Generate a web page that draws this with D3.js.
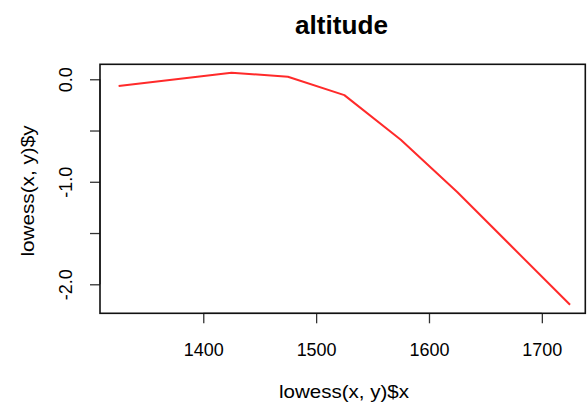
<!DOCTYPE html>
<html>
<head>
<meta charset="utf-8">
<script src="https://cdn.jsdelivr.net/npm/d3@7"></script>
<style>
  html, body { margin: 0; padding: 0; background: #fff; }
  svg { display: block; }
  text { font-family: "Liberation Sans", Arial, Helvetica, sans-serif; fill: #000; }
</style>
</head>
<body>
<svg id="chart" width="587" height="409"></svg>
<script>
const title = "altitude";
const xLabel = "lowess(x, y)$x";
const yLabel = "lowess(x, y)$y";
const xValues = [1325, 1425, 1475, 1525, 1575, 1625, 1725];
const yValues = [-0.065, 0.064, 0.025, -0.155, -0.59, -1.10, -2.20];
const xTicks = [1400, 1500, 1600, 1700];
const yTicks = [0, -0.5, -1, -1.5, -2];
const yTickLabels = ["0.0", "", "-1.0", "", "-2.0"];

const svg = d3.select("#chart");
const mLeft = 100, mRight = 585.3, mTop = 64.3, mBottom = 313.3;

const x = d3.scaleLinear().domain([1308.5, 1738.5]).range([mLeft, mRight]);
const y = d3.scaleLinear().domain([0.146, -2.283]).range([mTop, mBottom]);

// x axis
const gx = svg.append("g")
  .attr("transform", `translate(0,${mBottom})`)
  .call(d3.axisBottom(x).tickValues(xTicks).tickSize(10).tickPadding(17).tickFormat(d3.format("d")));
gx.select(".domain").remove();
gx.append("line").attr("x1", x(xTicks[0])).attr("x2", x(xTicks[xTicks.length-1]))
  .attr("stroke", "#000").attr("stroke-width", 1);
gx.selectAll(".tick line").attr("stroke", "#333").attr("stroke-width", 1.3);
gx.selectAll(".tick text")
  .style("font-size", "19px")
  .style("font-family", "Liberation Sans, Arial, sans-serif")
  .attr("y", 43).attr("dy", 0)
  .attr("textLength", 40).attr("lengthAdjust", "spacingAndGlyphs");

// y axis
const gy = svg.append("g")
  .attr("transform", `translate(${mLeft},0)`)
  .call(d3.axisLeft(y).tickValues(yTicks).tickSize(10).tickFormat((d, i) => yTickLabels[i]));
gy.select(".domain").remove();
gy.append("line").attr("y1", y(yTicks[0])).attr("y2", y(yTicks[yTicks.length-1]))
  .attr("stroke", "#000").attr("stroke-width", 1);
gy.selectAll(".tick line").attr("stroke", "#333").attr("stroke-width", 1.3);
gy.selectAll(".tick text")
  .style("font-size", "18px")
  .style("font-family", "Liberation Sans, Arial, sans-serif")
  .attr("text-anchor", "middle")
  .attr("x", 0).attr("dy", 0)
  .attr("transform", "translate(-28,0) rotate(-90)")
  .attr("y", 0);

// box
svg.append("rect")
  .attr("x", mLeft).attr("y", mTop)
  .attr("width", mRight - mLeft).attr("height", mBottom - mTop)
  .attr("fill", "none").attr("stroke", "#111").attr("stroke-width", 1.6);

// line
const line = d3.line().x((d, i) => x(xValues[i])).y(d => y(d));
svg.append("path")
  .datum(yValues)
  .attr("d", line)
  .attr("fill", "none")
  .attr("stroke", "#ff2a2a")
  .attr("stroke-width", 2)
  .attr("stroke-linejoin", "round");

// title
svg.append("text")
  .attr("x", 341.5).attr("y", 33.5)
  .attr("text-anchor", "middle")
  .style("font-size", "25px").style("font-weight", "bold")
  .attr("textLength", 93).attr("lengthAdjust", "spacingAndGlyphs")
  .text(title);

// x label
svg.append("text")
  .attr("x", 344).attr("y", 398)
  .attr("text-anchor", "middle")
  .style("font-size", "19px")
  .attr("textLength", 130).attr("lengthAdjust", "spacingAndGlyphs")
  .text(xLabel);

// y label
svg.append("text")
  .attr("transform", `translate(34,191) rotate(-90)`)
  .attr("text-anchor", "middle")
  .style("font-size", "19px")
  .attr("textLength", 131).attr("lengthAdjust", "spacingAndGlyphs")
  .text(yLabel);
</script>
</body>
</html>
